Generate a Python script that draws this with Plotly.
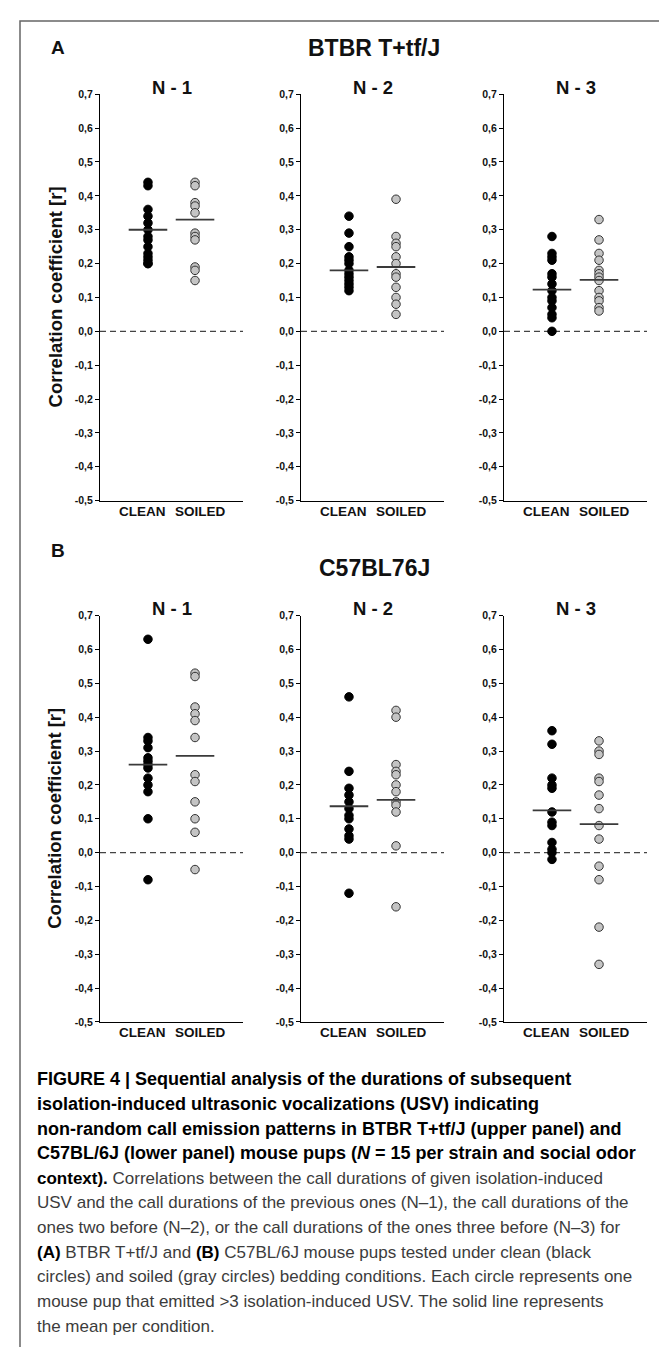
import plotly.graph_objects as go

# ---------------- data ----------------
panel_titles = ["BTBR T+tf/J", "C57BL76J"]
panel_letters = ["A", "B"]
lag_titles = ["N - 1", "N - 2", "N - 3"]
categories = ["CLEAN", "SOILED"]
ytick_vals = [0.7, 0.6, 0.5, 0.4, 0.3, 0.2, 0.1, 0.0, -0.1, -0.2, -0.3, -0.4, -0.5]
ytick_text = ["0,7", "0,6", "0,5", "0,4", "0,3", "0,2", "0,1", "0,0", "-0,1", "-0,2", "-0,3", "-0,4", "-0,5"]
y_title = "Correlation coefficient [r]"

btbr_clean_n1 = [0.44, 0.43, 0.36, 0.34, 0.32, 0.30, 0.28, 0.27, 0.25, 0.23, 0.22, 0.21, 0.20, 0.20]
btbr_soiled_n1 = [0.44, 0.43, 0.38, 0.37, 0.35, 0.29, 0.28, 0.27, 0.19, 0.18, 0.15]
btbr_clean_n2 = [0.34, 0.29, 0.25, 0.22, 0.21, 0.20, 0.18, 0.17, 0.16, 0.15, 0.14, 0.13, 0.12]
btbr_soiled_n2 = [0.39, 0.28, 0.26, 0.25, 0.22, 0.20, 0.17, 0.16, 0.13, 0.10, 0.08, 0.05]
btbr_clean_n3 = [0.28, 0.23, 0.22, 0.21, 0.17, 0.16, 0.14, 0.12, 0.10, 0.09, 0.07, 0.05, 0.04, 0.00]
btbr_soiled_n3 = [0.33, 0.27, 0.23, 0.21, 0.18, 0.17, 0.16, 0.15, 0.12, 0.10, 0.09, 0.07, 0.06]
btbr_clean_means = [0.30, 0.18, 0.123]
btbr_soiled_means = [0.33, 0.19, 0.152]

c57_clean_n1 = [0.63, 0.34, 0.33, 0.31, 0.28, 0.27, 0.26, 0.25, 0.22, 0.20, 0.18, 0.10, -0.08]
c57_soiled_n1 = [0.53, 0.52, 0.43, 0.41, 0.39, 0.34, 0.23, 0.21, 0.15, 0.10, 0.06, -0.05]
c57_clean_n2 = [0.46, 0.24, 0.19, 0.17, 0.15, 0.13, 0.11, 0.10, 0.07, 0.05, 0.04, -0.12]
c57_soiled_n2 = [0.42, 0.40, 0.26, 0.24, 0.23, 0.20, 0.18, 0.15, 0.14, 0.12, 0.02, -0.16]
c57_clean_n3 = [0.36, 0.32, 0.22, 0.20, 0.19, 0.12, 0.09, 0.08, 0.03, 0.01, 0.00, -0.02]
c57_soiled_n3 = [0.33, 0.30, 0.29, 0.22, 0.21, 0.17, 0.13, 0.08, 0.04, -0.04, -0.08, -0.22, -0.33]
c57_clean_means = [0.26, 0.137, 0.125]
c57_soiled_means = [0.286, 0.156, 0.084]

caption_lines = [
    "<b>FIGURE 4 | Sequential analysis of the durations of subsequent</b>",
    "<b>isolation-induced ultrasonic vocalizations (USV) indicating</b>",
    "<b>non-random call emission patterns in BTBR T+tf/J (upper panel) and</b>",
    "<b>C57BL/6J (lower panel) mouse pups (<i>N</i> = 15 per strain and social odor</b>",
    "<b><span style='color:#000000'>context).</span></b> Correlations between the call durations of given isolation-induced",
    "USV and the call durations of the previous ones (N\u20131), the call durations of the",
    "ones two before (N\u20132), or the call durations of the ones three before (N\u20133) for",
    "<b><span style='color:#000000'>(A)</span></b> BTBR T+tf/J and <b><span style='color:#000000'>(B)</span></b> C57BL/6J mouse pups tested under clean (black",
    "circles) and soiled (gray circles) bedding conditions. Each circle represents one",
    "mouse pup that emitted &gt;3 isolation-induced USV. The solid line represents",
    "the mean per condition.",
]

# ---------------- layout helpers ----------------
W, H = 667, 1347
FONT = "Liberation Sans, Arial, sans-serif"


def px(x):
    return x / W


def py(y):
    return 1 - y / H


col_px = [(92, 235), (293, 436), (496, 639)]
panel_px = [(81, 491), (607, 1017)]
letter_y = [34, 541]
title_y = [34, 559]

clean_sets = [[btbr_clean_n1, btbr_clean_n2, btbr_clean_n3],
              [c57_clean_n1, c57_clean_n2, c57_clean_n3]]
soiled_sets = [[btbr_soiled_n1, btbr_soiled_n2, btbr_soiled_n3],
               [c57_soiled_n1, c57_soiled_n2, c57_soiled_n3]]
clean_means = [btbr_clean_means, c57_clean_means]
soiled_means = [btbr_soiled_means, c57_soiled_means]

fig = go.Figure()
annotations = []
shapes = []
layout_axes = {}

k = 0
for p in range(2):
    top, bot = panel_px[p]
    for c in range(3):
        k += 1
        xa = "x" if k == 1 else f"x{k}"
        ya = "y" if k == 1 else f"y{k}"
        xname = "xaxis" if k == 1 else f"xaxis{k}"
        yname = "yaxis" if k == 1 else f"yaxis{k}"
        x0, x1 = col_px[c]
        layout_axes[xname] = dict(
            domain=[px(x0), px(x1)], anchor=ya, range=[-1.02, 2.02],
            showline=True, linecolor="black", linewidth=1.3, mirror=False,
            showgrid=False, zeroline=False, ticks="", showticklabels=False,
        )
        layout_axes[yname] = dict(
            domain=[py(bot), py(top)], anchor=xa, range=[-0.5, 0.7],
            showline=True, linecolor="black", linewidth=1.3,
            showgrid=False, zeroline=False,
            tickmode="array", tickvals=ytick_vals, ticktext=ytick_text,
            ticks="outside", ticklen=4, tickwidth=1, tickcolor="black",
            tickfont=dict(family=FONT, size=10.5, color="#111111", weight="bold"),
        )
        cl = clean_sets[p][c]
        so = soiled_sets[p][c]
        fig.add_trace(go.Scatter(
            x=[categories.index("CLEAN")] * len(cl), y=cl, mode="markers",
            marker=dict(size=8.5, color="black", line=dict(color="black", width=1)),
            xaxis=xa, yaxis=ya, showlegend=False, cliponaxis=False))
        fig.add_trace(go.Scatter(
            x=[categories.index("SOILED")] * len(so), y=so, mode="markers",
            marker=dict(size=8.5, color="#c4c4c4", line=dict(color="#333333", width=1)),
            xaxis=xa, yaxis=ya, showlegend=False, cliponaxis=False))
        for i, m in enumerate([clean_means[p][c], soiled_means[p][c]]):
            fig.add_trace(go.Scatter(
                x=[i - 0.41, i + 0.41], y=[m, m], mode="lines",
                line=dict(color="#3a3a3a", width=1.8),
                xaxis=xa, yaxis=ya, showlegend=False, hoverinfo="skip"))
        # zero reference line
        shapes.append(dict(type="line", xref=f"{xa} domain", x0=0, x1=1,
                           yref=ya, y0=0, y1=0, layer="below",
                           line=dict(color="#444444", width=1.3, dash="6px,4px")))
        # category labels under the axis
        for i, cat in enumerate(categories):
            annotations.append(dict(
                x=i, xref=xa, y=py(bot + 11), yref="paper", text=f"<b>{cat}</b>",
                showarrow=False, xanchor="center", yanchor="middle",
                xshift=-5 if i == 0 else 5,
                font=dict(family=FONT, size=13.5, color="#111111")))
        # lag title
        annotations.append(dict(
            x=px((x0 + x1) / 2), y=py(top - 7), xref="paper", yref="paper",
            text=f"<b>{lag_titles[c]}</b>", showarrow=False,
            xanchor="center", yanchor="middle",
            font=dict(family=FONT, size=18.5, color="#111111")))
    # y-axis title
    annotations.append(dict(
        x=px(47), y=py((top + bot) / 2), xref="paper", yref="paper",
        text=f"<b>{y_title}</b>", textangle=-90, showarrow=False,
        xanchor="center", yanchor="middle",
        font=dict(family=FONT, size=18.5, color="#111111")))
    # panel letter and title
    annotations.append(dict(
        x=px(50), y=py(letter_y[p]), xref="paper", yref="paper",
        text=f"<b>{panel_letters[p]}</b>", showarrow=False,
        xanchor="center", yanchor="middle",
        font=dict(family=FONT, size=19, color="#111111")))
    annotations.append(dict(
        x=px(366), y=py(title_y[p]), xref="paper", yref="paper",
        text=f"<b>{panel_titles[p]}</b>", showarrow=False,
        xanchor="center", yanchor="middle",
        font=dict(family=FONT, size=23, color="#111111")))

# caption
cap_y0 = 1075
cap_step = 24.9
for i, line in enumerate(caption_lines):
    bold_line = i < 4
    annotations.append(dict(
        x=px(27), y=py(cap_y0 + i * cap_step), xref="paper", yref="paper",
        text=line, showarrow=False, xanchor="left", yanchor="middle",
        font=dict(family=FONT, size=18 if bold_line else 17,
                  color="#000000" if bold_line else "#3c3c3c")))

# outer frame
shapes.append(dict(type="rect", xref="paper", yref="paper",
                   x0=px(12), x1=px(663), y0=-0.02, y1=py(7),
                   line=dict(color="#666666", width=1.5), fillcolor="rgba(0,0,0,0)"))

fig.update_layout(
    width=W, height=H, margin=dict(l=0, r=0, t=0, b=0),
    paper_bgcolor="white", plot_bgcolor="white",
    showlegend=False, annotations=annotations, shapes=shapes,
    font=dict(family=FONT),
    **layout_axes,
)

fig.write_html("out.html")
